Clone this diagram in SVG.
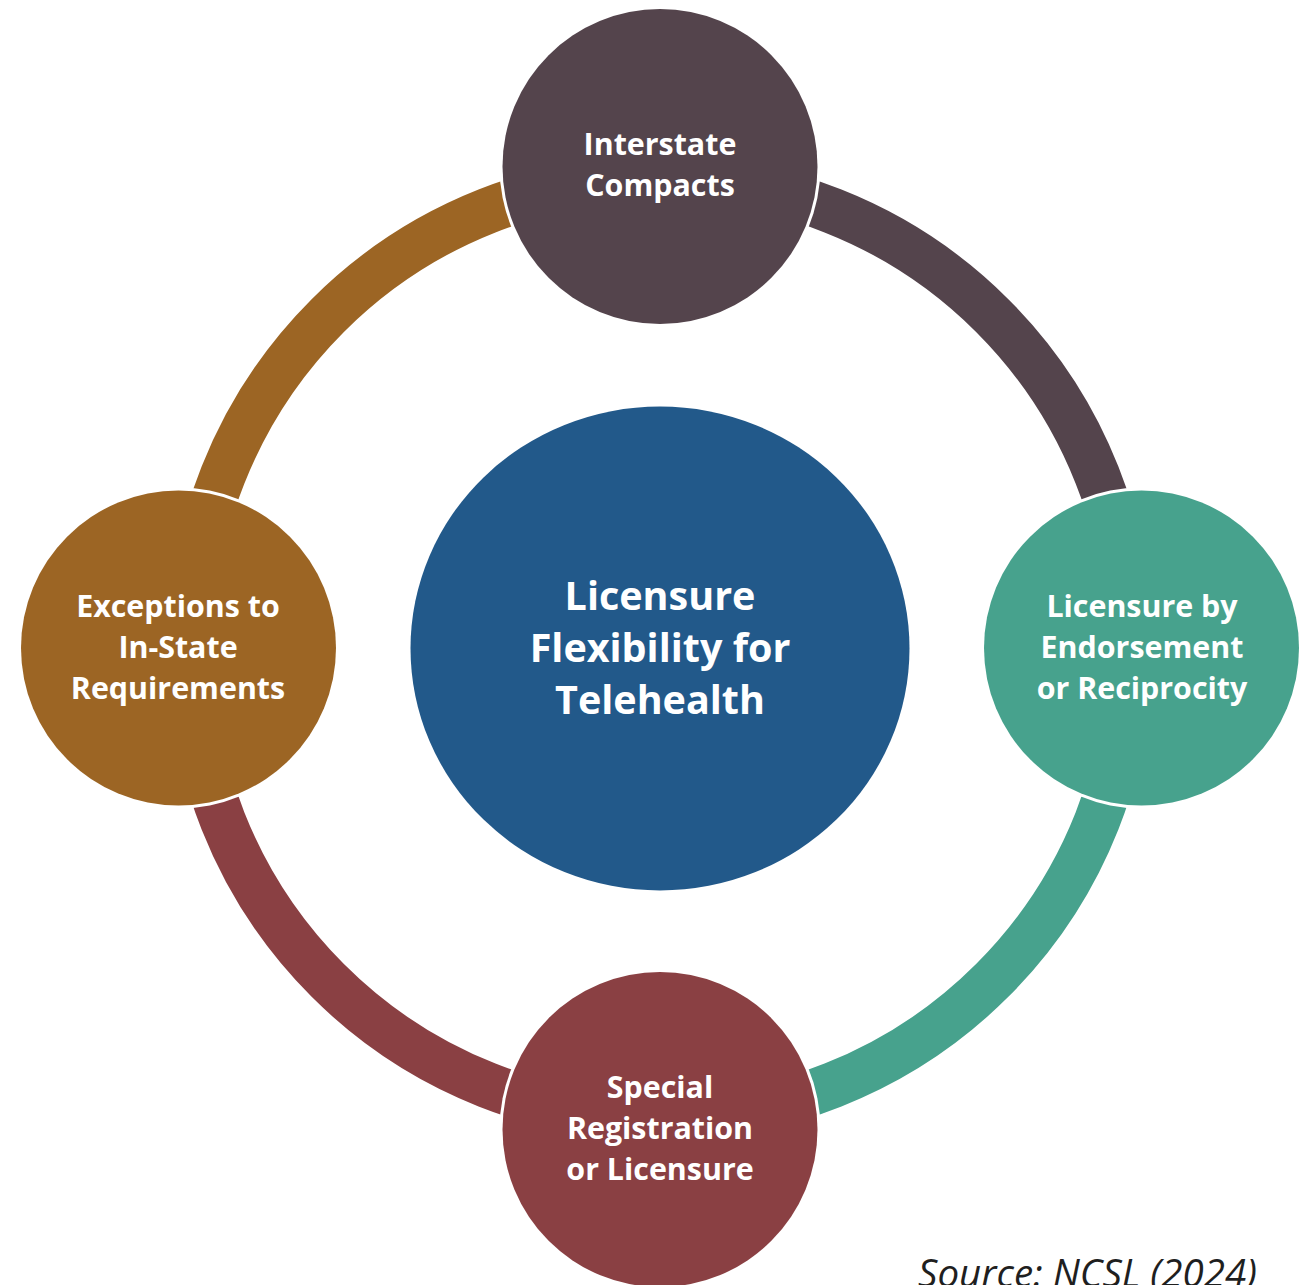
<svg xmlns="http://www.w3.org/2000/svg" width="1306" height="1285" viewBox="0 0 1306 1285">
  <style>
    .ring { fill: none; stroke-width: 46; }
    .halo { fill: #ffffff; }
    .label { font-family: "Open Sans", "Liberation Sans", sans-serif; font-weight: 700; fill: #ffffff; text-anchor: middle; }
    .sat { font-size: 30.4px; }
    .hub { font-size: 39.5px; }
    .source { font-family: "Open Sans", "Liberation Sans", sans-serif; font-style: italic; font-size: 38.5px; fill: #1f1f1f; }
  </style>
  <rect width="1306" height="1285" fill="#ffffff"/>

  <!-- ring segments: each quarter takes the colour of the node it leaves -->
  <g id="connectors">
    <path class="ring" stroke="#54444C" d="M 660 178 A 470 470 0 0 1 1130 648"/>
    <path class="ring" stroke="#47A28D" d="M 1130 648 A 470 470 0 0 1 660 1118"/>
    <path class="ring" stroke="#8A4043" d="M 660 1118 A 470 470 0 0 1 190 648"/>
    <path class="ring" stroke="#9C6524" d="M 190 648 A 470 470 0 0 1 660 178"/>
  </g>

  <g id="hub">
    <ellipse cx="660" cy="648.5" rx="249.5" ry="242" fill="#22598A"/>
    <text class="label hub" x="660" y="610">Licensure</text>
    <text class="label hub" x="660" y="662">Flexibility for</text>
    <text class="label hub" x="660" y="714">Telehealth</text>
  </g>

  <g id="node-interstate-compacts">
    <circle class="halo" cx="660" cy="166.5" r="160.5"/>
    <circle cx="660" cy="166.5" r="157.5" fill="#54444C"/>
    <text class="label sat" x="660" y="155">Interstate</text>
    <text class="label sat" x="660" y="196">Compacts</text>
  </g>

  <g id="node-endorsement">
    <circle class="halo" cx="1141.5" cy="648" r="160.5"/>
    <circle cx="1141.5" cy="648" r="157.5" fill="#47A28D"/>
    <text class="label sat" x="1142" y="617">Licensure by</text>
    <text class="label sat" x="1142" y="658">Endorsement</text>
    <text class="label sat" x="1142" y="699">or Reciprocity</text>
  </g>

  <g id="node-special-registration">
    <circle class="halo" cx="660" cy="1129.5" r="160.5"/>
    <circle cx="660" cy="1129.5" r="157.5" fill="#8A4043"/>
    <text class="label sat" x="660" y="1098">Special</text>
    <text class="label sat" x="660" y="1139">Registration</text>
    <text class="label sat" x="660" y="1180">or Licensure</text>
  </g>

  <g id="node-exceptions">
    <circle class="halo" cx="178.5" cy="648" r="160.5"/>
    <circle cx="178.5" cy="648" r="157.5" fill="#9C6524"/>
    <text class="label sat" x="178" y="617">Exceptions to</text>
    <text class="label sat" x="178" y="658">In-State</text>
    <text class="label sat" x="178" y="699">Requirements</text>
  </g>

  <text class="source" x="918" y="1287">Source: NCSL (2024)</text>
</svg>
